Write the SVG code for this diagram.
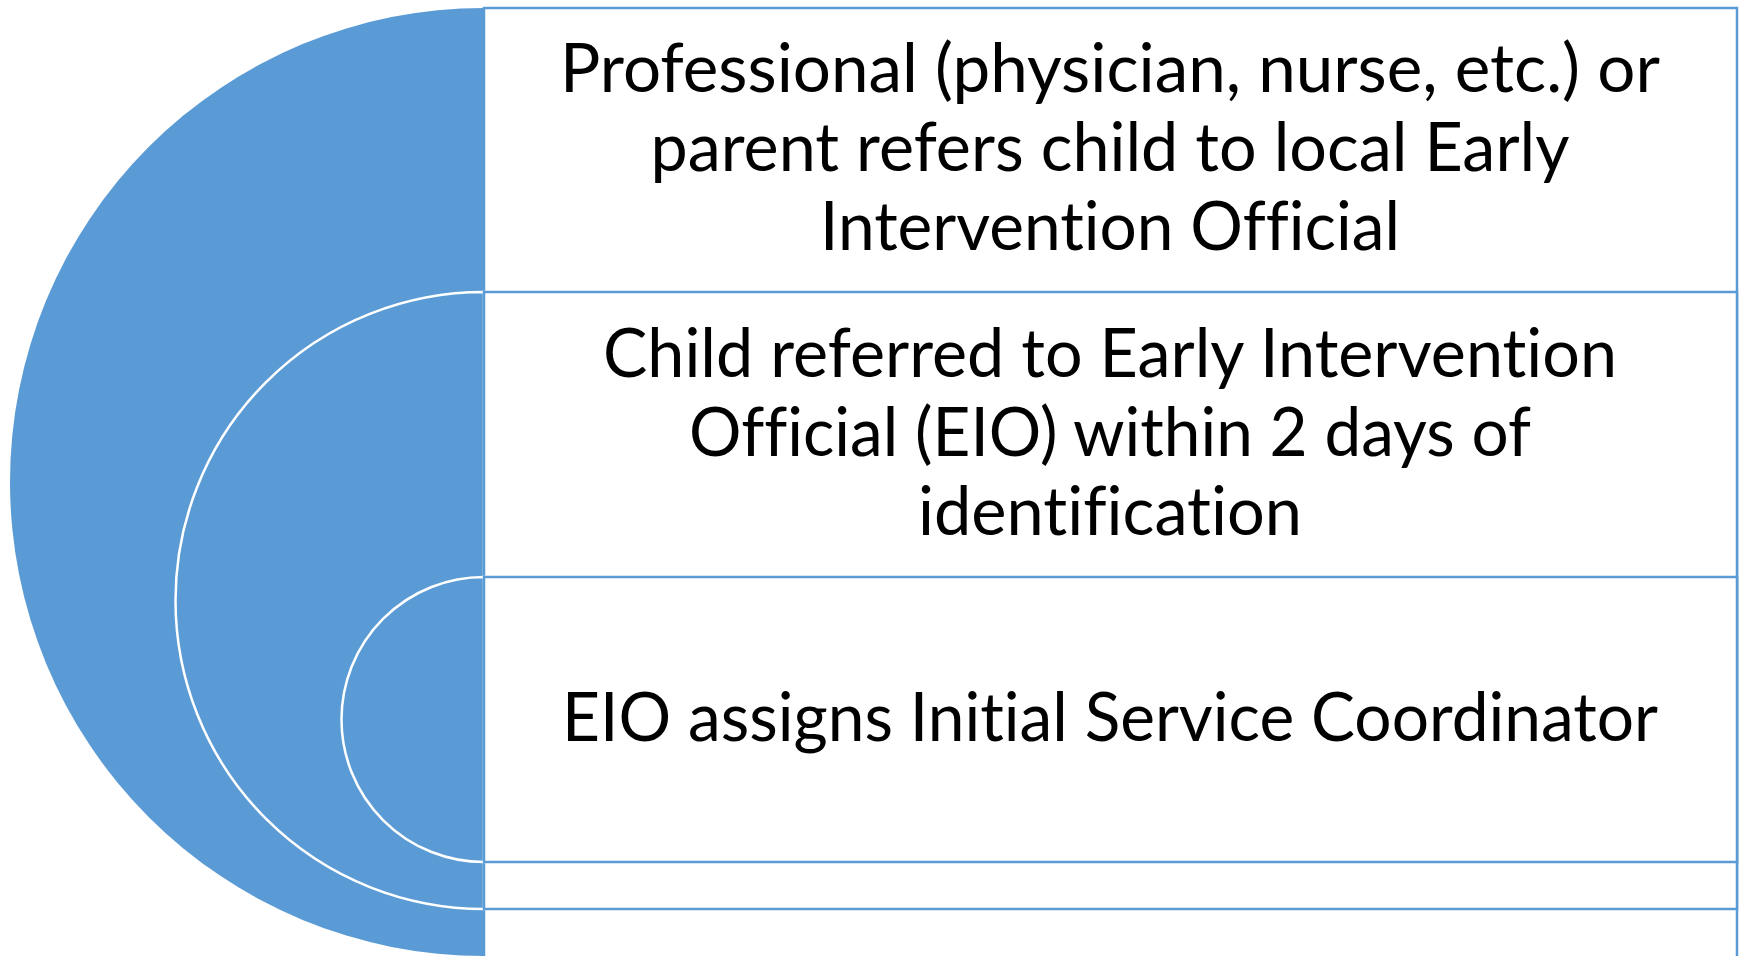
<svg xmlns="http://www.w3.org/2000/svg" width="1745" height="956" viewBox="0 0 1745 956">
<style>
.arc{fill:#5B9BD5;stroke:#FFFFFF;stroke-width:2.5}
.arc0{fill:#5B9BD5;stroke:none}
.box{fill:#FFFFFF;stroke:#5B9BD5;stroke-width:2.5}
.t{font-family:Lato,"Open Sans","Liberation Sans",sans-serif;font-size:67px;fill:#000000;text-anchor:middle;font-variant-ligatures:none;font-feature-settings:"liga" 0,"clig" 0}
</style>
<rect width="1745" height="956" fill="#FFFFFF"/>
<g id="node1">
<path class="arc0" d="M484 8 A474 474 0 0 0 484 956 Z"/>
<rect class="box" x="484" y="8" width="1253" height="960"/>
<text class="t" x="1110" y="92" textLength="1100" lengthAdjust="spacingAndGlyphs">Professional (physician, nurse, etc.) or</text>
<text class="t" x="1110" y="171" textLength="919" lengthAdjust="spacingAndGlyphs">parent refers child to local Early</text>
<text class="t" x="1110" y="250" textLength="580" lengthAdjust="spacingAndGlyphs">Intervention Official</text>
</g>
<g id="node2">
<path class="arc" d="M484 292 A308.5 308.5 0 0 0 484 909 Z"/>
<rect class="box" x="484" y="292" width="1253" height="617"/>
<text class="t" x="1110" y="377" textLength="1014" lengthAdjust="spacingAndGlyphs">Child referred to Early Intervention</text>
<text class="t" x="1110" y="456" textLength="842" lengthAdjust="spacingAndGlyphs">Official (EIO) within 2 days of</text>
<text class="t" x="1110" y="535" textLength="384" lengthAdjust="spacingAndGlyphs">identification</text>
</g>
<g id="node3">
<path class="arc" d="M484 577 A142.5 142.5 0 0 0 484 862 Z"/>
<rect class="box" x="484" y="577" width="1253" height="285"/>
<text class="t" x="1110" y="741" textLength="1096" lengthAdjust="spacingAndGlyphs">EIO assigns Initial Service Coordinator</text>
</g>
<g id="connectors"/>
</svg>
